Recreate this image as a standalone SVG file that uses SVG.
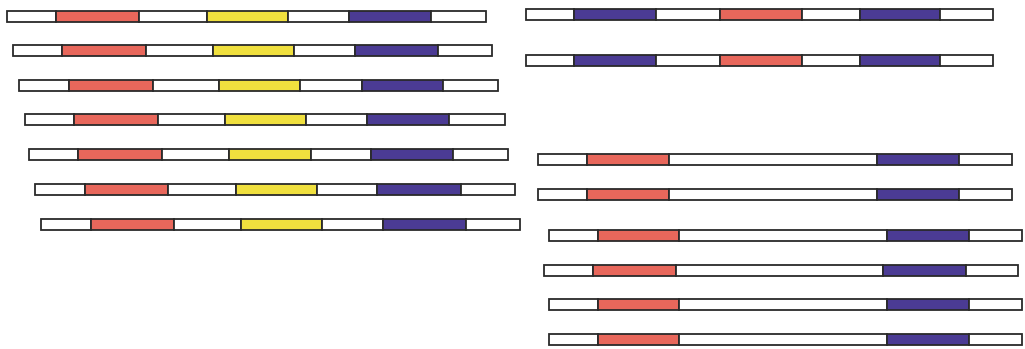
<svg xmlns="http://www.w3.org/2000/svg" width="1025" height="349" viewBox="0 0 1025 349">
<style>
.w,.r,.y,.p{stroke:#2a2a2a;stroke-width:1.8}
.w{fill:#ffffff}.r{fill:#e8675b}.y{fill:#f0e03e}.p{fill:#4b3b94}
</style>
<rect x="0" y="0" width="1025" height="349" fill="#ffffff"/>
<g id="L1"><rect class="w" x="7" y="11" width="49" height="11"/><rect class="r" x="56" y="11" width="83" height="11"/><rect class="w" x="139" y="11" width="68" height="11"/><rect class="y" x="207" y="11" width="81" height="11"/><rect class="w" x="288" y="11" width="61" height="11"/><rect class="p" x="349" y="11" width="82" height="11"/><rect class="w" x="431" y="11" width="55" height="11"/></g>
<g id="L2"><rect class="w" x="13" y="45" width="49" height="11"/><rect class="r" x="62" y="45" width="84" height="11"/><rect class="w" x="146" y="45" width="67" height="11"/><rect class="y" x="213" y="45" width="81" height="11"/><rect class="w" x="294" y="45" width="61" height="11"/><rect class="p" x="355" y="45" width="83" height="11"/><rect class="w" x="438" y="45" width="54" height="11"/></g>
<g id="L3"><rect class="w" x="19" y="80" width="50" height="11"/><rect class="r" x="69" y="80" width="84" height="11"/><rect class="w" x="153" y="80" width="66" height="11"/><rect class="y" x="219" y="80" width="81" height="11"/><rect class="w" x="300" y="80" width="62" height="11"/><rect class="p" x="362" y="80" width="81" height="11"/><rect class="w" x="443" y="80" width="55" height="11"/></g>
<g id="L4"><rect class="w" x="25" y="114" width="49" height="11"/><rect class="r" x="74" y="114" width="84" height="11"/><rect class="w" x="158" y="114" width="67" height="11"/><rect class="y" x="225" y="114" width="81" height="11"/><rect class="w" x="306" y="114" width="61" height="11"/><rect class="p" x="367" y="114" width="82" height="11"/><rect class="w" x="449" y="114" width="56" height="11"/></g>
<g id="L5"><rect class="w" x="29" y="149" width="49" height="11"/><rect class="r" x="78" y="149" width="84" height="11"/><rect class="w" x="162" y="149" width="67" height="11"/><rect class="y" x="229" y="149" width="82" height="11"/><rect class="w" x="311" y="149" width="60" height="11"/><rect class="p" x="371" y="149" width="82" height="11"/><rect class="w" x="453" y="149" width="55" height="11"/></g>
<g id="L6"><rect class="w" x="35" y="184" width="50" height="11"/><rect class="r" x="85" y="184" width="83" height="11"/><rect class="w" x="168" y="184" width="68" height="11"/><rect class="y" x="236" y="184" width="81" height="11"/><rect class="w" x="317" y="184" width="60" height="11"/><rect class="p" x="377" y="184" width="84" height="11"/><rect class="w" x="461" y="184" width="54" height="11"/></g>
<g id="L7"><rect class="w" x="41" y="219" width="50" height="11"/><rect class="r" x="91" y="219" width="83" height="11"/><rect class="w" x="174" y="219" width="67" height="11"/><rect class="y" x="241" y="219" width="81" height="11"/><rect class="w" x="322" y="219" width="61" height="11"/><rect class="p" x="383" y="219" width="83" height="11"/><rect class="w" x="466" y="219" width="54" height="11"/></g>
<g id="RT1"><rect class="w" x="526" y="9" width="48" height="11"/><rect class="p" x="574" y="9" width="82" height="11"/><rect class="w" x="656" y="9" width="64" height="11"/><rect class="r" x="720" y="9" width="82" height="11"/><rect class="w" x="802" y="9" width="58" height="11"/><rect class="p" x="860" y="9" width="80" height="11"/><rect class="w" x="940" y="9" width="53" height="11"/></g>
<g id="RT2"><rect class="w" x="526" y="55" width="48" height="11"/><rect class="p" x="574" y="55" width="82" height="11"/><rect class="w" x="656" y="55" width="64" height="11"/><rect class="r" x="720" y="55" width="82" height="11"/><rect class="w" x="802" y="55" width="58" height="11"/><rect class="p" x="860" y="55" width="80" height="11"/><rect class="w" x="940" y="55" width="53" height="11"/></g>
<g id="RB1"><rect class="w" x="538" y="154" width="49" height="11"/><rect class="r" x="587" y="154" width="82" height="11"/><rect class="w" x="669" y="154" width="208" height="11"/><rect class="p" x="877" y="154" width="82" height="11"/><rect class="w" x="959" y="154" width="53" height="11"/></g>
<g id="RB2"><rect class="w" x="538" y="189" width="49" height="11"/><rect class="r" x="587" y="189" width="82" height="11"/><rect class="w" x="669" y="189" width="208" height="11"/><rect class="p" x="877" y="189" width="82" height="11"/><rect class="w" x="959" y="189" width="53" height="11"/></g>
<g id="RB3"><rect class="w" x="549" y="230" width="49" height="11"/><rect class="r" x="598" y="230" width="81" height="11"/><rect class="w" x="679" y="230" width="208" height="11"/><rect class="p" x="887" y="230" width="82" height="11"/><rect class="w" x="969" y="230" width="53" height="11"/></g>
<g id="RB4"><rect class="w" x="544" y="265" width="49" height="11"/><rect class="r" x="593" y="265" width="83" height="11"/><rect class="w" x="676" y="265" width="207" height="11"/><rect class="p" x="883" y="265" width="83" height="11"/><rect class="w" x="966" y="265" width="52" height="11"/></g>
<g id="RB5"><rect class="w" x="549" y="299" width="49" height="11"/><rect class="r" x="598" y="299" width="81" height="11"/><rect class="w" x="679" y="299" width="208" height="11"/><rect class="p" x="887" y="299" width="82" height="11"/><rect class="w" x="969" y="299" width="53" height="11"/></g>
<g id="RB6"><rect class="w" x="549" y="334" width="49" height="11"/><rect class="r" x="598" y="334" width="81" height="11"/><rect class="w" x="679" y="334" width="208" height="11"/><rect class="p" x="887" y="334" width="82" height="11"/><rect class="w" x="969" y="334" width="53" height="11"/></g>
<g id="connectors"></g>
</svg>
